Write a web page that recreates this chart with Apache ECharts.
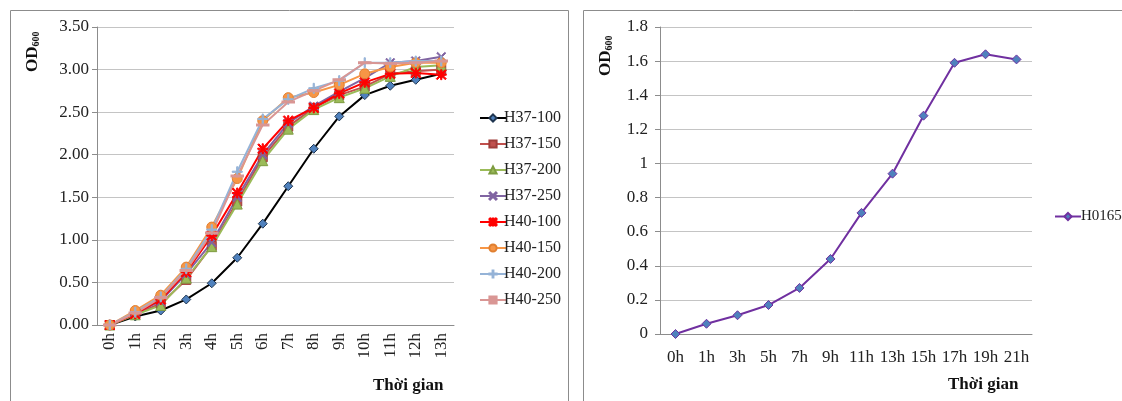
<!DOCTYPE html>
<html>
<head>
    <meta charset="utf-8">
    <title>OD600</title>
    <script src="https://cdn.jsdelivr.net/npm/echarts@6/dist/echarts.min.js"></script>
    <style>
        html, body { margin: 0; padding: 0; background: #fff; }
        #wrap { position: relative; width: 1122px; height: 401px; overflow: hidden; }
        #left { position: absolute; left: 0; top: 0; width: 575px; height: 401px; }
        #right { position: absolute; left: 575px; top: 0; width: 547px; height: 401px; }
    </style>
</head>
<body>
<div id="wrap">
    <div id="left"></div>
    <div id="right"></div>
</div>
<script type="text/javascript">
    // 左图数据
    var hoursLeft = ['0h', '1h', '2h', '3h', '4h', '5h', '6h', '7h', '8h', '9h', '10h', '11h', '12h', '13h'];
    var h37_100 = [0, 0.10, 0.17, 0.30, 0.49, 0.79, 1.19, 1.63, 2.07, 2.45, 2.70, 2.81, 2.88, 2.95];
    var h37_150 = [0, 0.13, 0.25, 0.53, 0.93, 1.45, 1.97, 2.33, 2.55, 2.70, 2.80, 2.95, 2.98, 3.00];
    var h37_200 = [0, 0.12, 0.23, 0.55, 0.92, 1.42, 1.93, 2.30, 2.53, 2.67, 2.78, 2.92, 3.03, 3.05];
    var h37_250 = [0, 0.14, 0.28, 0.60, 0.97, 1.50, 2.00, 2.37, 2.57, 2.74, 2.90, 3.08, 3.10, 3.15];
    var h40_100 = [0, 0.13, 0.30, 0.62, 1.05, 1.55, 2.07, 2.40, 2.55, 2.72, 2.85, 2.95, 2.96, 2.94];
    var h40_150 = [0, 0.17, 0.35, 0.68, 1.15, 1.72, 2.40, 2.67, 2.73, 2.82, 2.95, 3.03, 3.08, 3.08];
    var h40_200 = [0, 0.15, 0.33, 0.66, 1.12, 1.80, 2.42, 2.65, 2.78, 2.87, 3.08, 3.08, 3.10, 3.10];
    var h40_250 = [0, 0.14, 0.32, 0.64, 1.08, 1.75, 2.35, 2.62, 2.75, 2.88, 3.08, 3.07, 3.08, 3.10];

    // 右图数据
    var hoursRight = ['0h', '1h', '3h', '5h', '7h', '9h', '11h', '13h', '15h', '17h', '19h', '21h'];
    var h0165 = [0, 0.06, 0.11, 0.17, 0.27, 0.44, 0.71, 0.94, 1.28, 1.59, 1.64, 1.61];

    var FONT = '"Liberation Serif", "DejaVu Serif", serif';
    var axisText = { fontFamily: FONT, fontSize: 17, color: '#222' };
    var odRich = {
        a: { fontFamily: FONT, fontSize: 17, fontWeight: 'bold', fill: '#111' },
        b: { fontFamily: FONT, fontSize: 10, fontWeight: 'bold', fill: '#111', verticalAlign: 'bottom', padding: [6, 0, 0, 0] }
    };

    // 标记形状（填充路径）
    var SYM_X = 'path://M0,1L1,0L5,4L9,0L10,1L6,5L10,9L9,10L5,6L1,10L0,9L4,5Z';
    var SYM_PLUS = 'path://M4.4,0L5.6,0L5.6,4.4L10,4.4L10,5.6L5.6,5.6L5.6,10L4.4,10L4.4,5.6L0,5.6L0,4.4L4.4,4.4Z';
    var SYM_STAR = 'path://M4.4,0L5.6,0L5.6,4.4L10,4.4L10,5.6L5.6,5.6L5.6,10L4.4,10L4.4,5.6L0,5.6L0,4.4L4.4,4.4Z M0,1L1,0L5,4L9,0L10,1L6,5L10,9L9,10L5,6L1,10L0,9L4,5Z';
    var SYM_DASH = 'path://M0,0L10,0L10,2L0,2Z';

    function mk(name, data, lineColor, symbol, fill, border, size) {
        return {
            name: name, type: 'line', data: data,
            symbol: symbol, symbolSize: size,
            lineStyle: { color: lineColor, width: 2 },
            itemStyle: { color: fill, borderColor: border, borderWidth: 1 },
            emphasis: { disabled: true }
        };
    }

    // 左图
    var chartL = echarts.init(document.getElementById('left'));
    chartL.setOption({
        animation: false,
        textStyle: { fontFamily: FONT },
        graphic: [
            { type: 'rect', shape: { x: 10.5, y: 10.5, width: 558, height: 395 }, style: { fill: 'none', stroke: '#8c8c8c', lineWidth: 1 } },
            { type: 'text', x: 24, y: 72, rotation: Math.PI / 2, style: { text: '{a|OD}{b|600}', rich: odRich } },
            { type: 'text', x: 373, y: 377, style: { text: 'Thời gian', fontFamily: FONT, fontSize: 17, fontWeight: 'bold', fill: '#111' } }
        ],
        legend: {
            orient: 'vertical', left: 474, top: 104, itemGap: 8, itemWidth: 26, itemHeight: 9,
            textStyle: { fontFamily: FONT, fontSize: 16, color: '#222', padding: [0, 0, 0, -7], lineHeight: 18 },
            data: ['H37-100', 'H37-150', 'H37-200', 'H37-250', 'H40-100', 'H40-150', 'H40-200', 'H40-250']
        },
        grid: { left: 97, top: 27, width: 357, height: 298 },
        xAxis: {
            type: 'category', data: hoursLeft, boundaryGap: true,
            axisLine: { lineStyle: { color: '#8c8c8c' } },
            axisTick: { show: false },
            axisLabel: Object.assign({ rotate: 90, margin: 8, interval: 0 }, axisText)
        },
        yAxis: {
            type: 'value', min: 0, max: 3.5, interval: 0.5,
            axisLine: { show: true, lineStyle: { color: '#8c8c8c' } },
            axisTick: { show: true, length: 5, lineStyle: { color: '#8c8c8c' } },
            splitLine: { lineStyle: { color: '#c4c4c4' } },
            axisLabel: Object.assign({ margin: 8, formatter: function (v) { return v.toFixed(2); } }, axisText)
        },
        series: [
            mk('H37-100', h37_100, '#000000', 'diamond', '#4f81bd', '#1f3550', 9),
            mk('H37-150', h37_150, '#c0504d', 'rect', '#c0504d', '#a03c39', 9),
            mk('H37-200', h37_200, '#9bbb59', 'triangle', '#9bbb59', '#7e9c41', 10),
            mk('H37-250', h37_250, '#8064a2', SYM_X, '#8064a2', '#8064a2', 9),
            mk('H40-100', h40_100, '#ff0000', SYM_STAR, '#ff0000', '#ff0000', 10),
            mk('H40-150', h40_150, '#f79646', 'circle', '#f79646', '#e07f30', 10),
            mk('H40-200', h40_200, '#95b3d7', SYM_PLUS, '#95b3d7', '#95b3d7', 10),
            mk('H40-250', h40_250, '#d99694', SYM_DASH, '#d99694', '#d99694', [9, 2])
        ]
    });

    // 右图
    var chartR = echarts.init(document.getElementById('right'));
    chartR.setOption({
        animation: false,
        textStyle: { fontFamily: FONT },
        graphic: [
            { type: 'rect', shape: { x: 8.5, y: 10.5, width: 560, height: 395 }, style: { fill: 'none', stroke: '#8c8c8c', lineWidth: 1 } },
            { type: 'text', x: 22, y: 76, rotation: Math.PI / 2, style: { text: '{a|OD}{b|600}', rich: odRich } },
            { type: 'text', x: 373, y: 376, style: { text: 'Thời gian', fontFamily: FONT, fontSize: 17, fontWeight: 'bold', fill: '#111' } }
        ],
        legend: {
            orient: 'vertical', left: 474, top: 204, itemWidth: 26, itemHeight: 9,
            textStyle: { fontFamily: FONT, fontSize: 15, color: '#222', padding: [0, 0, 0, -5] },
            data: ['H0165']
        },
        grid: { left: 85, top: 27, width: 372, height: 307 },
        xAxis: {
            type: 'category', data: hoursRight, boundaryGap: true,
            axisLine: { lineStyle: { color: '#8c8c8c' } },
            axisTick: { show: false },
            axisLabel: Object.assign({ interval: 0, margin: 15 }, axisText)
        },
        yAxis: {
            type: 'value', min: 0, max: 1.8, interval: 0.2,
            axisLine: { show: true, lineStyle: { color: '#8c8c8c' } },
            axisTick: { show: true, length: 5, lineStyle: { color: '#8c8c8c' } },
            splitLine: { lineStyle: { color: '#c4c4c4' } },
            axisLabel: Object.assign({ margin: 12, formatter: function (v) { return String(Math.round(v * 10) / 10); } }, axisText)
        },
        series: [{
            name: 'H0165', type: 'line', data: h0165,
            symbol: 'diamond', symbolSize: 9,
            lineStyle: { color: '#7030a0', width: 2 },
            itemStyle: { color: '#4f81bd', borderColor: '#7030a0', borderWidth: 1 },
            emphasis: { disabled: true }
        }]
    });
</script>
</body>
</html>
